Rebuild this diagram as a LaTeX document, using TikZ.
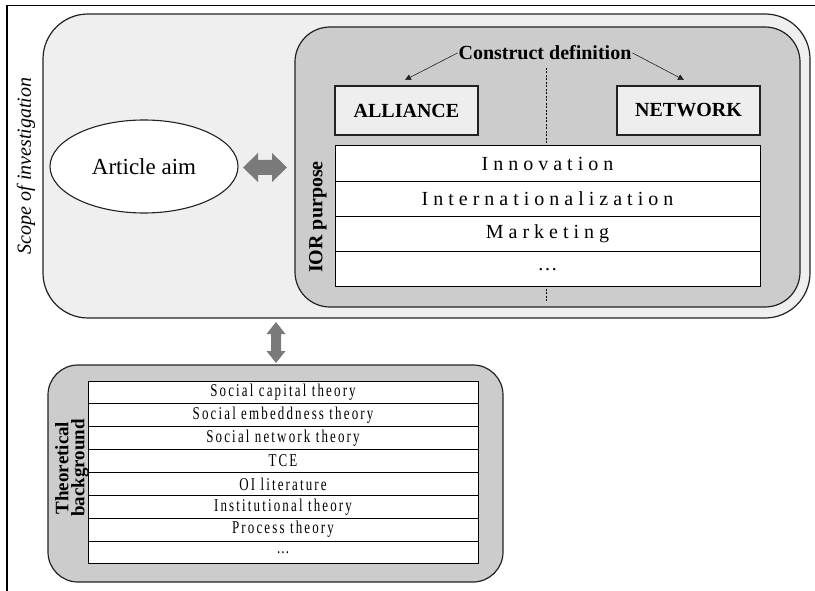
\documentclass[tikz,border=0pt]{standalone}
\usepackage{fontspec}
\setmainfont{Liberation Serif}
\newfontfamily\toptab[LetterSpace=25]{Liberation Serif}
\newfontfamily\bottab[LetterSpace=12,FakeStretch=0.72]{Liberation Serif}
\usetikzlibrary{shapes.geometric,arrows.meta}
\definecolor{outerfill}{HTML}{EFEFEF}
\definecolor{innerfill}{HTML}{CCCCCC}
\definecolor{boxfill}{HTML}{EEEEEE}
\definecolor{arrowgray}{HTML}{7A7A7A}
\definecolor{edge}{HTML}{222222}
\tikzset{
  roundbox/.style={draw=edge, line width=1.2pt, inner sep=0pt},
  headbox/.style={draw=edge, line width=1.1pt, fill=boxfill, inner sep=0pt,
    minimum width=143pt, minimum height=49pt, font=\fontsize{20}{24}\selectfont\bfseries},
  toprow/.style={draw=black, line width=1pt, fill=white, inner sep=0pt,
    minimum width=425pt, minimum height=35.25pt, font=\toptab\fontsize{20}{24}\selectfont},
  botrow/.style={draw=black, line width=1pt, fill=white, inner sep=0pt,
    minimum width=390pt, minimum height=22.875pt, font=\bottab\fontsize{18}{20}\selectfont},
  blockarrow/.style={fill=arrowgray, draw=none},
  sidelabel/.style={rotate=90, inner sep=0pt},
  thinarrow/.style={-{Triangle[length=6pt,width=6pt]}, line width=0.6pt, draw=edge},
}
\begin{document}
\begin{tikzpicture}[x=1pt,y=-1pt]
\useasboundingbox (0,0) rectangle (815,591);
% frame lines
\coordinate (fTR) at (815,5.5);
\coordinate (fTL) at (7,5.5);
\coordinate (fBL) at (7,591);
\draw[line width=1.5pt] (fTR) -- (fTL) -- (fBL);

% outer box
\node[roundbox, fill=outerfill, rounded corners=45pt, minimum width=767pt, minimum height=304pt] (scope) at (426.5,166) {};
\node[sidelabel, font=\fontsize{20}{24}\selectfont\itshape] (scopelbl) at (26,166) {Scope of investigation};

% article aim
\node[ellipse, draw=edge, line width=1.1pt, fill=white, minimum width=188pt, minimum height=93pt, inner sep=0pt,
  font=\fontsize{23}{27}\selectfont] (aim) at (144,166.5) {Article aim};

% inner box
\node[roundbox, fill=innerfill, rounded corners=35pt, minimum width=505pt, minimum height=280pt] (ior) at (547.5,167) {};

% dashed divider
\coordinate (dTop) at (546,68);
\coordinate (dBot) at (546,302);
\draw[line width=0.6pt, dash pattern=on 2pt off 1.5pt] (dTop) -- (dBot);

\node[font=\fontsize{20}{24}\selectfont\bfseries, inner sep=1pt] (cd) at (545,53) {Construct definition};
\node[headbox] (alliance) at (406.5,110.5) {ALLIANCE};
\node[headbox] (network) at (688.5,110.5) {NETWORK};
\coordinate (aTip) at (405,80);
\coordinate (nTip) at (684,80);
\draw[thinarrow] (cd.west) -- (aTip);
\draw[thinarrow] (cd.east) -- (nTip);

% IOR purpose table
\node[toprow] (r1) at (547.5,163.625) {Innovation};
\node[toprow] (r2) at (547.5,198.875) {Internationalization};
\node[toprow] (r3) at (547.5,234.125) {Marketing};
\node[toprow] (r4) at (547.5,269.375) {\dots};
\node[sidelabel, font=\fontsize{20}{24}\selectfont\bfseries] (iorlbl) at (318,217) {IOR purpose};

% horizontal double arrow (block)
\coordinate (harrow) at (265,167.5);
\fill[blockarrow] (243,167.5) -- (258,153) -- (258,160) -- (272,160) -- (272,153) -- (287,167.5)
  -- (272,182) -- (272,175) -- (258,175) -- (258,182) -- cycle;

% vertical double arrow (block)
\coordinate (varrow) at (276,342.5);
\fill[blockarrow] (276,322) -- (285.5,334) -- (281,334) -- (281,351) -- (285.5,351) -- (276,363)
  -- (266.5,351) -- (271,351) -- (271,334) -- (266.5,334) -- cycle;

% bottom box
\node[roundbox, fill=innerfill, rounded corners=30pt, minimum width=455pt, minimum height=217pt] (theory) at (275.5,473.5) {};
\node[botrow] (b1) at (283,392.44) {Social capital theory};
\node[botrow] (b2) at (283,415.31) {Social embeddness theory};
\node[botrow] (b3) at (283,438.19) {Social network theory};
\node[botrow] (b4) at (283,461.06) {TCE};
\node[botrow] (b5) at (283,483.94) {OI literature};
\node[botrow] (b6) at (283,506.81) {Institutional theory};
\node[botrow] (b7) at (283,529.69) {Process theory};
\node[botrow] (b8) at (283,552.56) {\dots};
\node[sidelabel, font=\fontsize{19}{16}\selectfont\bfseries, align=center] (thlbl) at (72,468) {Theoretical\\background};
\end{tikzpicture}
\end{document}
